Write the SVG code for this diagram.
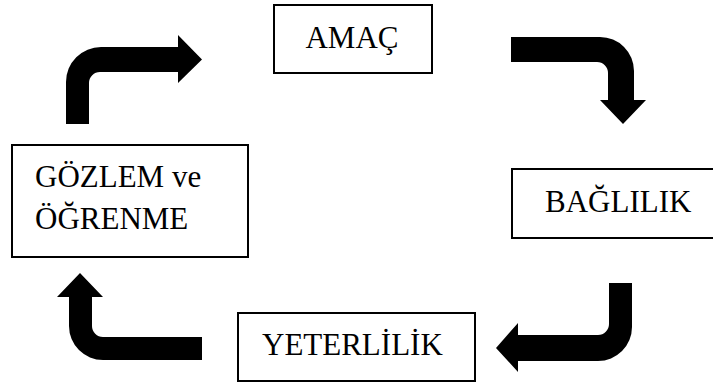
<svg xmlns="http://www.w3.org/2000/svg" width="713" height="385" viewBox="0 0 713 385">
<style>
.box{fill:#fff;stroke:#000;stroke-width:2}
.lbl{font-family:"Liberation Serif","Times New Roman",serif;font-size:31px;fill:#000}
.arr{fill:#000}
</style>
<rect width="713" height="385" fill="#fff"/>
<g id="connectors">
<path class="arr" d="M66,124 L66,82 A35,35 0 0 1 101,47 L178,47 L178,35 L202,59.5 L178,83 L178,72 L100,72 A11,11 0 0 0 89,83 L89,124 Z"/>
<path class="arr" d="M511,37 L600,37 A34,34 0 0 1 634,71 L634,100 L646,100 L623,124 L600,100 L608,100 L608,73 A11,11 0 0 0 597,62 L511,62 Z"/>
<path class="arr" d="M609,283 L632,283 L632,327 A34,34 0 0 1 598,361 L518,361 L518,372 L496,348 L518,323 L518,335 L598,335 A11,11 0 0 0 609,324 Z"/>
<path class="arr" d="M202,337 L202,360 L103,360 A34,34 0 0 1 69,326 L69,297 L57,297 L80,273 L103,297 L92,297 L92,326 A11,11 0 0 0 103,337 Z"/>
</g>
<g id="amac">
<rect class="box" x="274" y="5" width="158" height="68"/>
<text class="lbl" x="352" y="48" text-anchor="middle">AMAÇ</text>
</g>
<g id="baglilik">
<rect class="box" x="512" y="169" width="210" height="69"/>
<text class="lbl" x="545" y="212">BAĞLILIK</text>
</g>
<g id="yeterlilik">
<rect class="box" x="238" y="313" width="237" height="68"/>
<text class="lbl" x="262" y="355">YETERLİLİK</text>
</g>
<g id="gozlem">
<rect class="box" x="12" y="145" width="236" height="112"/>
<text class="lbl" x="35" y="187">GÖZLEM ve</text>
<text class="lbl" x="35" y="229">ÖĞRENME</text>
</g>
</svg>
